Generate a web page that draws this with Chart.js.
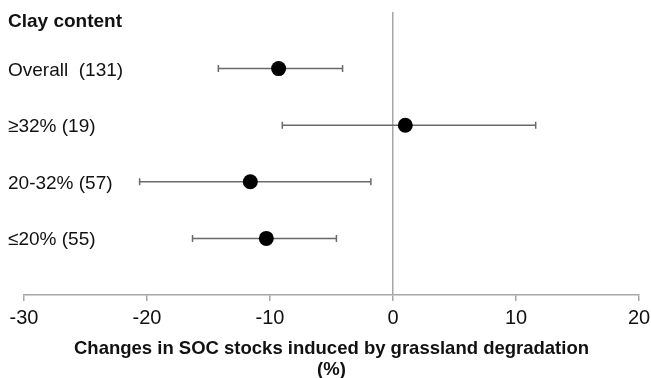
<!DOCTYPE html>
<html>
<head>
<meta charset="utf-8">
<script src="https://cdn.jsdelivr.net/npm/chart.js@4.4.1/dist/chart.umd.min.js"></script>
<style>
  html, body { margin: 0; padding: 0; background: #fff; }
  #wrap { width: 651px; height: 378px; position: relative; }
</style>
</head>
<body>
<div id="wrap"><canvas id="forest"></canvas></div>
<script>
// clay-content groups, mean effect and 95% CI (%)
const groups = ['Overall  (131)', '\u226532% (19)', '20-32% (57)', '\u226420% (55)'];
const means = [-9.3, 1.0, -11.6, -10.3];
const lower = [-14.2, -9.0, -20.6, -16.3];
const upper = [-4.1, 11.6, -1.8, -4.6];
const xTicks = [-30, -20, -10, 0, 10, 20];

const FONT = "'Liberation Sans', Arial, sans-serif";
Chart.defaults.font.family = FONT;
Chart.defaults.color = '#111';

// whiskers under the points
const errorBars = {
    id: 'errorBars',
    beforeDatasetsDraw(chart) {
        const { ctx, scales: { x, y } } = chart;
        ctx.save();
        ctx.strokeStyle = '#6a6a6a';
        ctx.lineWidth = 1.5;
        groups.forEach((g, i) => {
            const py = y.getPixelForValue(i + 1);
            const x0 = x.getPixelForValue(lower[i]);
            const x1 = x.getPixelForValue(upper[i]);
            ctx.beginPath();
            ctx.moveTo(x0, py); ctx.lineTo(x1, py);
            ctx.moveTo(x0, py - 3.5); ctx.lineTo(x0, py + 3.5);
            ctx.moveTo(x1, py - 3.5); ctx.lineTo(x1, py + 3.5);
            ctx.stroke();
        });
        ctx.restore();
    }
};

// row labels and heading on the left
const rowLabels = {
    id: 'rowLabels',
    afterDatasetsDraw(chart) {
        const { ctx, scales: { y } } = chart;
        ctx.save();
        ctx.fillStyle = '#111';
        ctx.textAlign = 'left';
        ctx.textBaseline = 'alphabetic';
        ctx.font = 'bold 19px ' + FONT;
        ctx.fillText('Clay content', 8, y.getPixelForValue(0) + 15);
        ctx.font = '19px ' + FONT;
        groups.forEach((g, i) => {
            ctx.fillText(g, 8, y.getPixelForValue(i + 1) + 7);
        });
        ctx.restore();
    }
};

new Chart(document.getElementById('forest'), {
    type: 'scatter',
    data: {
        datasets: [{
            data: groups.map((g, i) => ({ x: means[i], y: i + 1 })),
            backgroundColor: '#000',
            borderWidth: 0,
            pointRadius: 7.5,
            pointHoverRadius: 7.5
        }]
    },
    options: {
        responsive: true,
        maintainAspectRatio: false,
        animation: false,
        layout: { padding: { top: 12, left: 24, right: 12, bottom: 0 } },
        plugins: { legend: { display: false }, tooltip: { enabled: false } },
        scales: {
            x: {
                type: 'linear',
                min: -30,
                max: 20,
                afterBuildTicks: (axis) => { axis.ticks = xTicks.map(v => ({ value: v })); },
                afterFit: (axis) => { axis.paddingLeft = 0; axis.paddingRight = 0; },
                grid: {
                    color: (c) => c.tick && c.tick.value === 0 ? '#a6a6a6' : 'rgba(0,0,0,0)',
                    lineWidth: 1.5,
                    tickColor: '#a6a6a6',
                    tickLength: 6
                },
                border: { display: true, color: '#a6a6a6', width: 1.5 },
                ticks: {
                    color: '#111',
                    padding: 5.4,
                    maxRotation: 0,
                    font: { size: 20, lineHeight: 1.2 }
                },
                title: {
                    display: true,
                    text: ['Changes in SOC stocks induced by grassland degradation', '(%)'],
                    color: '#111',
                    font: { size: 18.5, weight: 'bold', lineHeight: 1.13 },
                    padding: { top: 2.4, bottom: -2 }
                }
            },
            y: {
                type: 'linear',
                min: 0,
                max: 5,
                reverse: true,
                display: false
            }
        }
    },
    plugins: [errorBars, rowLabels]
});
</script>
</body>
</html>
